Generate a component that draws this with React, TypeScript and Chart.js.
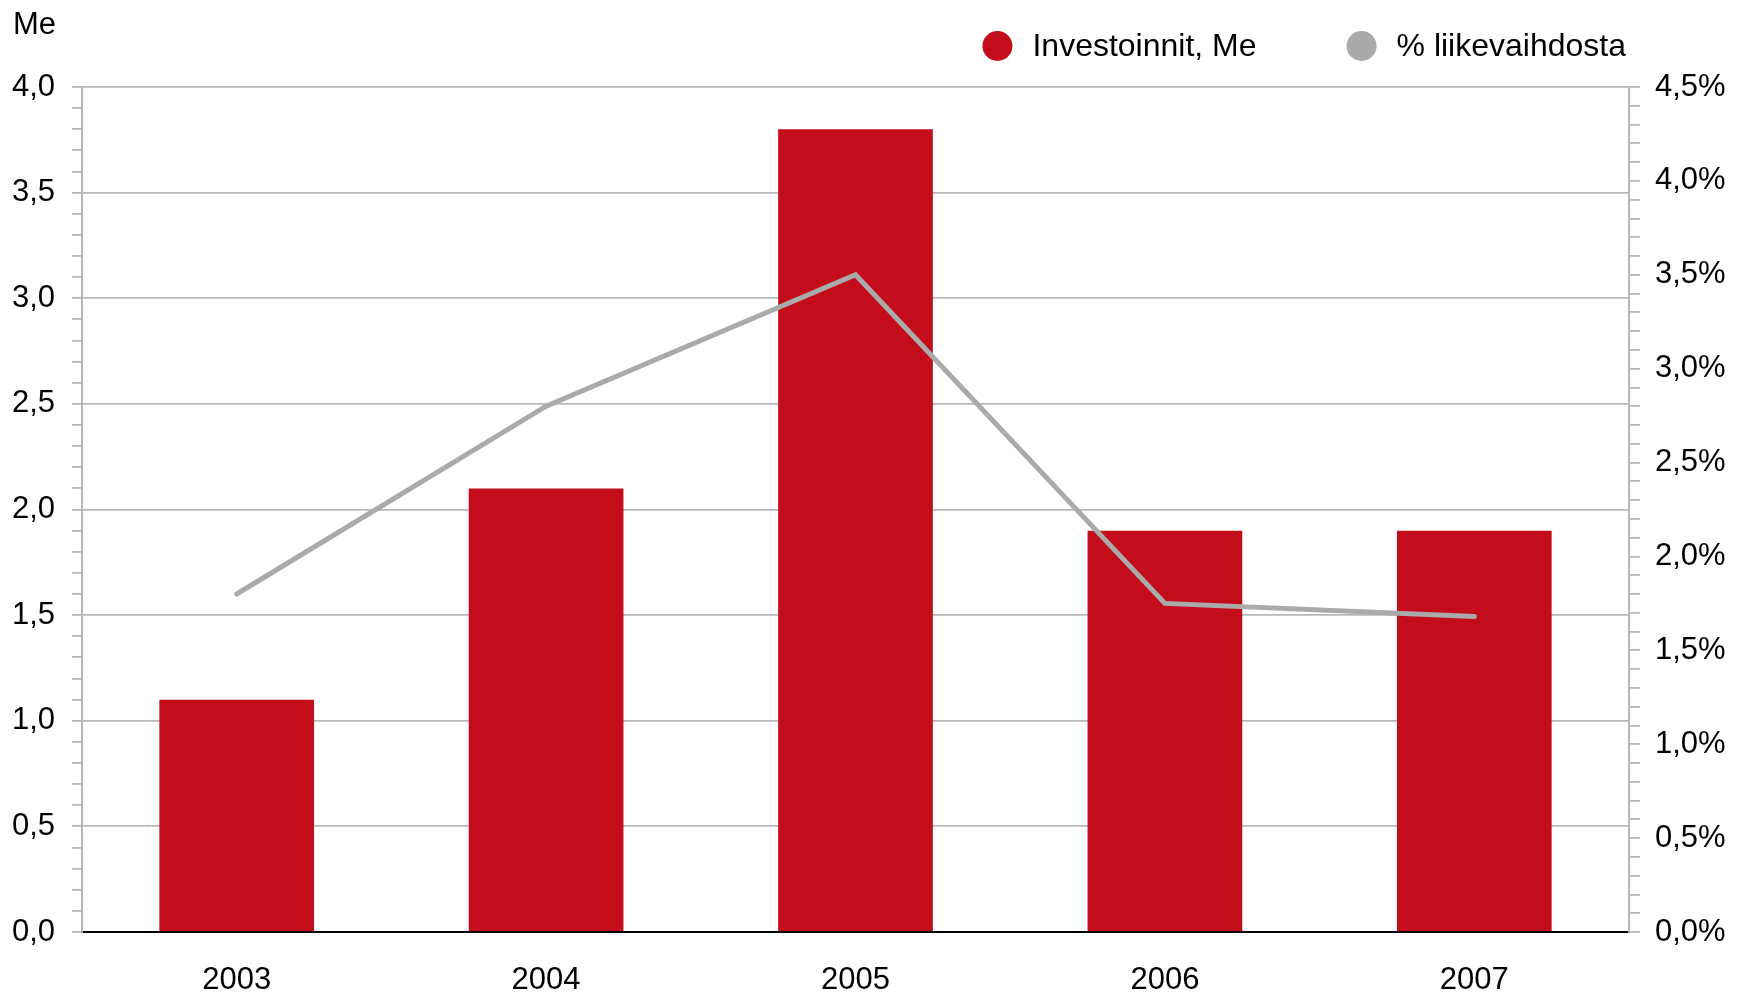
import React, { useEffect, useRef } from 'react';
import { Chart, registerables } from 'chart.js';

Chart.register(...registerables);

// ---- data ----
const years: string[] = ['2003', '2004', '2005', '2006', '2007'];
const investments: number[] = [1.1, 2.1, 3.8, 1.9, 1.9];
const percentOfSales: number[] = [1.8, 2.8, 3.5, 1.75, 1.68];
const seriesLabels: string[] = ['Investoinnit, Me', '% liikevaihdosta'];
const unitLabel = 'Me';
const leftAxisMax = 4.0;
const rightAxisMax = 4.5;
const minorStep = 0.1;
const majorEvery = 5; // label every 0.5

const RED = '#c40d1a';
const GREY_LINE = '#aaaaaa';
const GRID = '#b8b8b8';
const FONT = '"Liberation Sans", Arial, sans-serif';

const isMajor = (v: number) => Math.round(v * 10) % majorEvery === 0;
const fmt = (v: number, suffix = '') => v.toFixed(1).replace('.', ',') + suffix;

const overlayPlugin = {
  id: 'overlay',
  afterDraw(chart: any) {
    const ctx = chart.ctx as CanvasRenderingContext2D;
    ctx.save();
    ctx.fillStyle = '#000';
    ctx.textBaseline = 'middle';
    ctx.textAlign = 'left';
    ctx.font = `31px ${FONT}`;
    ctx.fillText(unitLabel, 13, 25);

    ctx.font = `32px ${FONT}`;
    const y = 47;
    let x = chart.chartArea.right - 3;
    const ds = chart.data.datasets;
    for (let i = ds.length - 1; i >= 0; i--) {
      const text = ds[i].label as string;
      const w = ctx.measureText(text).width;
      const tx = x - w;
      ctx.fillStyle = '#000';
      ctx.fillText(text, tx, y);
      const cx = tx - 35;
      ctx.beginPath();
      ctx.arc(cx, y - 1, 15, 0, Math.PI * 2);
      ctx.fillStyle = ds[i].legendColor as string;
      ctx.fill();
      x = cx - 15 - 90;
    }
    ctx.restore();
  },
};

export default function App() {
  const ref = useRef<HTMLCanvasElement | null>(null);

  useEffect(() => {
    if (!ref.current) return;
    const tickFont = { family: FONT, size: 31 };
    const chart = new Chart(ref.current, {
      type: 'bar',
      data: {
        labels: years,
        datasets: [
          {
            type: 'bar',
            label: seriesLabels[0],
            data: investments,
            yAxisID: 'y',
            backgroundColor: RED,
            borderWidth: 0,
            barPercentage: 0.5,
            categoryPercentage: 1,
            order: 2,
            legendColor: RED,
          } as any,
          {
            type: 'line',
            label: seriesLabels[1],
            data: percentOfSales,
            yAxisID: 'y1',
            borderColor: GREY_LINE,
            backgroundColor: GREY_LINE,
            borderWidth: 5,
            pointRadius: 0,
            borderCapStyle: 'round',
            borderJoinStyle: 'miter',
            tension: 0,
            order: 1,
            legendColor: GREY_LINE,
          } as any,
        ],
      },
      options: {
        responsive: false,
        animation: false,
        maintainAspectRatio: false,
        layout: { padding: { top: 87, left: 0, right: 0, bottom: 0 } },
        plugins: {
          legend: { display: false },
          tooltip: { enabled: false },
        },
        scales: {
          x: {
            grid: { display: false, drawTicks: false },
            border: { display: true, color: '#000', width: 2 },
            ticks: { font: tickFont, color: '#000', padding: 30 },
            afterFit: (s: any) => {
              s.height = 62;
            },
          },
          y: {
            position: 'left',
            min: 0,
            max: leftAxisMax,
            ticks: {
              stepSize: minorStep,
              autoSkip: false,
              font: tickFont,
              color: '#000',
              padding: 17,
              callback: (v: any) => (isMajor(Number(v)) ? fmt(Number(v)) : ''),
            },
            grid: {
              color: (c: any) =>
                c.tick && isMajor(c.tick.value) && Math.round(c.tick.value * 10) !== 0 ? GRID : 'rgba(0,0,0,0)',
              tickColor: GRID,
              tickLength: 10,
              lineWidth: 1.8,
            },
            border: { color: GRID, width: 2 },
            afterFit: (s: any) => {
              s.width = 82;
            },
          },
          y1: {
            position: 'right',
            min: 0,
            max: rightAxisMax,
            ticks: {
              stepSize: minorStep,
              autoSkip: false,
              font: tickFont,
              color: '#000',
              padding: 15,
              callback: (v: any) => (isMajor(Number(v)) ? fmt(Number(v), '%') : ''),
            },
            grid: {
              drawOnChartArea: false,
              tickColor: GRID,
              tickLength: 11,
              lineWidth: 1.8,
            },
            border: { color: GRID, width: 2 },
            afterFit: (s: any) => {
              s.width = 121;
            },
          },
        },
      } as any,
      plugins: [overlayPlugin],
    });
    return () => chart.destroy();
  }, []);

  return (
    <div style={{ position: 'absolute', left: 0, top: 0, width: 1750, height: 994, background: '#fff' }}>
      <canvas ref={ref} width={1750} height={994} style={{ display: 'block' }} />
    </div>
  );
}
